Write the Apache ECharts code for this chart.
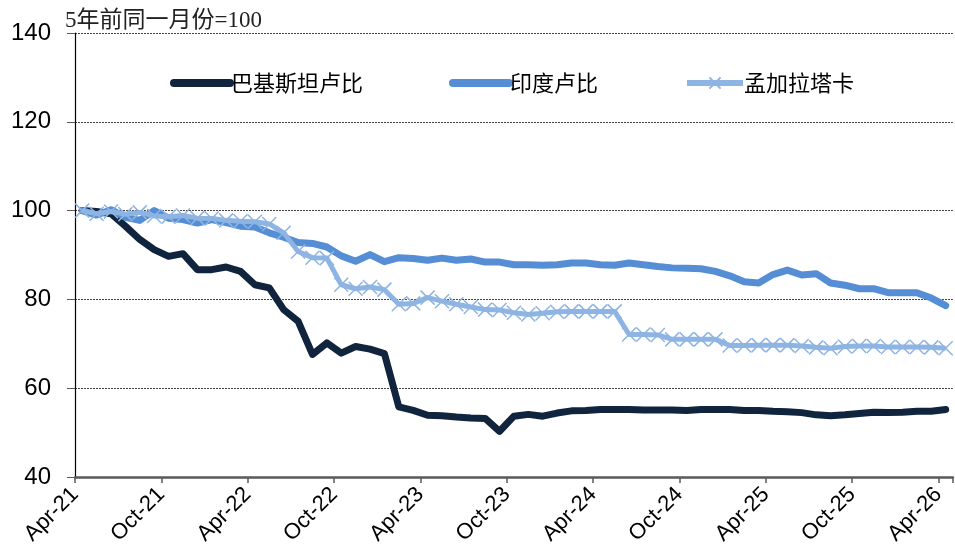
<!DOCTYPE html>
<html>
<head>
<meta charset="utf-8">
<script src="https://cdn.jsdelivr.net/npm/echarts@6/dist/echarts.min.js"></script>
<style>
  html, body { margin: 0; padding: 0; background: #fff; }
  #main { width: 955px; height: 559px; }
</style>
</head>
<body>
<div id="main"></div>
<script>
// 横轴刻度标签（每6个月一个）
const tickLabels = ['Apr-21', 'Oct-21', 'Apr-22', 'Oct-22', 'Apr-23', 'Oct-23',
  'Apr-24', 'Oct-24', 'Apr-25', 'Oct-25', 'Apr-26'];

// 月度数据，2021年4月起，5年前同一月份=100
const pkr = [100, 99.8, 99.3, 96.5, 93.5, 91.2, 89.7, 90.3, 86.7, 86.7,
  87.3, 86.3, 83.3, 82.6, 77.7, 75.1, 67.6, 70.2, 67.9, 69.4,
  68.8, 67.8, 55.8, 55.0, 53.9, 53.8, 53.5, 53.3, 53.2, 50.3,
  53.7, 54.1, 53.7, 54.4, 54.9, 55.0, 55.2, 55.2, 55.2, 55.1,
  55.1, 55.1, 55.0, 55.2, 55.2, 55.2, 55.0, 55.0, 54.8, 54.7,
  54.5, 54.0, 53.8, 54.0, 54.3, 54.6, 54.5, 54.6, 54.8, 54.8, 55.2];

const inr = [100, 99.0, 100.2, 98.5, 97.8, 100.0, 98.3, 98.0, 97.2, 98.0,
  97.3, 96.5, 96.3, 95.0, 94.0, 92.8, 92.6, 91.8, 89.8, 88.6,
  90.1, 88.5, 89.4, 89.2, 88.8, 89.3, 88.8, 89.1, 88.4, 88.4,
  87.8, 87.8, 87.7, 87.8, 88.2, 88.2, 87.8, 87.7, 88.2, 87.8,
  87.4, 87.1, 87.0, 86.9, 86.3, 85.3, 84.0, 83.7, 85.6, 86.6,
  85.5, 85.8, 83.7, 83.2, 82.4, 82.4, 81.5, 81.5, 81.5, 80.3, 78.6];

const bdt = [100, 99.3, 99.8, 99.2, 99.6, 98.8, 98.6, 98.9, 98.3, 98.2,
  97.8, 97.6, 97.5, 97.0, 95.0, 90.8, 89.4, 89.3, 83.3, 82.4,
  82.8, 82.2, 78.9, 79.1, 80.4, 79.6, 78.9, 78.3, 77.7, 77.6,
  77.0, 76.6, 76.9, 77.2, 77.3, 77.3, 77.3, 77.3, 72.1, 72.1,
  72.0, 71.0, 71.0, 71.0, 71.0, 69.6, 69.6, 69.7, 69.7, 69.7,
  69.5, 69.2, 69.0, 69.4, 69.5, 69.5, 69.3, 69.3, 69.3, 69.2, 69.0];

// 每个月的点画在月中
const toPoints = arr => arr.map((v, i) => [i + 0.5, v]);

const cross = 'path://M0,0L10,10M10,0L0,10';

const myecharts = echarts.init(document.getElementById('main'));
const option = {
  animation: false,
  textStyle: { fontFamily: 'Liberation Sans, Noto Sans CJK SC' },
  grid: { left: 75, right: 0, top: 33, bottom: 82 },
  legend: {
    left: 165,
    top: 67,
    itemWidth: 56,
    itemHeight: 14,
    itemGap: 86,
    textStyle: { fontSize: 22, color: '#000', fontFamily: 'Noto Sans CJK SC', padding: [0, 0, 0, -4] },
    data: [
      { name: '巴基斯坦卢比', itemStyle: { opacity: 0 }, lineStyle: { width: 8, cap: 'round' } },
      { name: '印度卢比', itemStyle: { opacity: 0 }, lineStyle: { width: 8, cap: 'round' } },
      { name: '孟加拉塔卡', lineStyle: { width: 6 } }
    ]
  },
  graphic: [{
    type: 'text',
    left: 65,
    top: 9,
    style: {
      text: '5年前同一月份=100',
      fontSize: 23,
      fill: '#222',
      fontFamily: 'Liberation Serif, Noto Sans CJK SC'
    }
  }],
  xAxis: {
    type: 'value',
    min: 0,
    max: pkr.length,
    interval: 6,
    splitLine: { show: false },
    axisLine: { lineStyle: { color: '#595959', width: 2.5 } },
    axisTick: { length: 6, lineStyle: { color: '#595959', width: 1.5 } },
    axisLabel: {
      rotate: 45,
      margin: 14,
      fontSize: 22,
      color: '#000',
      formatter: v => tickLabels[v / 6] || ''
    }
  },
  yAxis: {
    type: 'value',
    min: 40,
    max: 140,
    interval: 20,
    axisLine: { show: true, lineStyle: { color: '#000', width: 1.2 } },
    axisTick: { show: true, length: 8, lineStyle: { color: '#595959' } },
    axisLabel: { fontSize: 24, color: '#000', margin: 24 },
    splitLine: { lineStyle: { type: [2, 1], color: '#444', width: 1 } }
  },
  series: [{
    name: '巴基斯坦卢比',
    type: 'line',
    data: toPoints(pkr),
    symbol: 'none',
    lineStyle: { color: '#10243e', width: 7, cap: 'round', join: 'round' },
    itemStyle: { color: '#10243e' }
  }, {
    name: '印度卢比',
    type: 'line',
    data: toPoints(inr),
    symbol: 'none',
    lineStyle: { color: '#558ed5', width: 7, cap: 'round', join: 'round' },
    itemStyle: { color: '#558ed5' }
  }, {
    name: '孟加拉塔卡',
    type: 'line',
    data: toPoints(bdt),
    symbol: cross,
    symbolSize: 14,
    lineStyle: { color: '#8eb4e3', width: 5, join: 'round' },
    itemStyle: { color: '#8eb4e3', borderColor: '#8eb4e3', borderWidth: 1.5 }
  }]
};
myecharts.setOption(option);
</script>
</body>
</html>
